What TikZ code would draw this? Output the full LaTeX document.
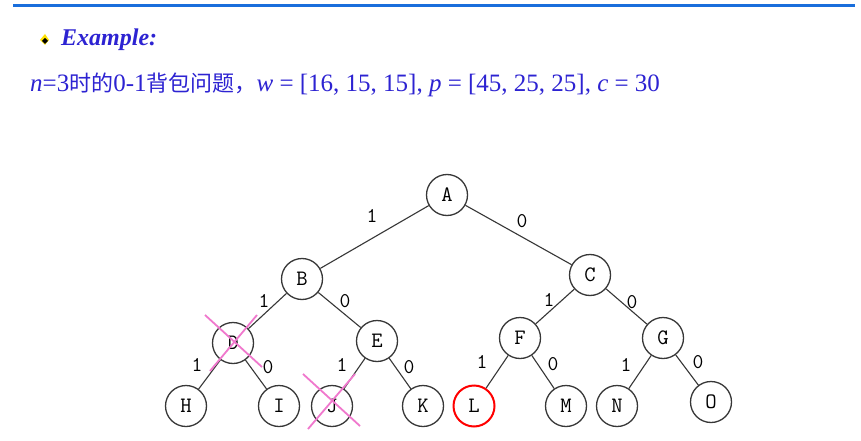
\documentclass[tikz,border=0pt]{standalone}
\usepackage{fontspec}
\setmainfont{Liberation Serif}
\newfontfamily\cjk{Noto Sans CJK SC}
\definecolor{topblue}{RGB}{25,110,220}
\definecolor{txtblue}{RGB}{45,35,210}
\definecolor{crosspink}{RGB}{240,120,205}
\definecolor{edgegray}{RGB}{55,55,55}
\begin{document}
\begin{tikzpicture}[x=1pt,y=-1pt,
  tnode/.style={circle,draw=edgegray,line width=1.3pt,minimum size=41pt,inner sep=0pt,font=\ttfamily\fontsize{22}{22}\selectfont},
  redn/.style={tnode,draw=red,line width=2pt},
  tedge/.style={draw=edgegray,line width=1.1pt},
  elab/.style={font=\ttfamily\fontsize{21}{21}\selectfont,inner sep=0pt},
  xmark/.style={crosspink,line width=1.8pt}]
\useasboundingbox (0,0) rectangle (861,441);
\fill[white] (0,0) rectangle (861,441);
\draw[topblue,line width=3pt] (13,5.5) -- (855,5.5);
% bullet
\fill[yellow!85!orange] (45,34) -- (49,40) -- (45,45) -- (40,40) -- cycle;
\fill[black] (45,38) -- (48,41) -- (45,44) -- (42,41) -- cycle;
\node[anchor=west,inner sep=0pt,text=txtblue,font=\fontsize{24}{24}\selectfont\bfseries\itshape] (ex) at (61,40) {Example:};
\node[anchor=west,inner sep=0pt,text=txtblue,font=\fontsize{25}{25}\selectfont] (prob) at (30,85)
  {\textit{n}=3{\cjk\fontsize{22}{22}\selectfont 时的}0-1{\cjk\fontsize{22}{22}\selectfont 背包问题，}\textit{w} = [16, 15, 15], \textit{p} = [45, 25, 25], \textit{c} = 30};
% nodes
\node[tnode] (A) at (447,195) {A};
\node[tnode] (B) at (302,279) {B};
\node[tnode] (C) at (590,275) {C};
\node[tnode] (D) at (233,343) {D};
\node[tnode] (E) at (377,341) {E};
\node[tnode] (F) at (520,338) {F};
\node[tnode] (G) at (663,338) {G};
\node[tnode] (H) at (186,406) {H};
\node[tnode] (I) at (279,406) {I};
\node[tnode] (J) at (332,406) {J};
\node[tnode] (K) at (423,406) {K};
\node[redn]  (L) at (474,406) {L};
\node[tnode] (M) at (566,406) {M};
\node[tnode] (N) at (617,406) {N};
\node[tnode] (O) at (711,402) {O};
% edges
\foreach \a/\b in {A/B,A/C,B/D,B/E,C/F,C/G,D/H,D/I,E/J,E/K,F/L,F/M,G/N,G/O}
  \path[tedge] (\a) -- (\b);
% edge labels
\node[elab] (l1) at (372,216) {1};
\node[elab] (l2) at (522,221) {0};
\node[elab] (l3) at (264,301) {1};
\node[elab] (l4) at (345,301) {0};
\node[elab] (l5) at (197,365) {1};
\node[elab] (l6) at (268,367) {0};
\node[elab] (l7) at (342,365) {1};
\node[elab] (l8) at (409,367) {0};
\node[elab] (l9) at (549,300) {1};
\node[elab] (l10) at (632,302) {0};
\node[elab] (l11) at (482,362) {1};
\node[elab] (l12) at (553,364) {0};
\node[elab] (l13) at (626,365) {1};
\node[elab] (l14) at (698,362) {0};
% crosses
\coordinate (d1) at (205,315); \coordinate (d2) at (262,367);
\coordinate (d3) at (257,315); \coordinate (d4) at (210,371);
\draw[xmark] (d1) -- (d2); \draw[xmark] (d3) -- (d4);
\coordinate (j1) at (303,374); \coordinate (j2) at (360,426);
\coordinate (j3) at (355,374); \coordinate (j4) at (308,429);
\draw[xmark] (j1) -- (j2); \draw[xmark] (j3) -- (j4);
\end{tikzpicture}
\end{document}
